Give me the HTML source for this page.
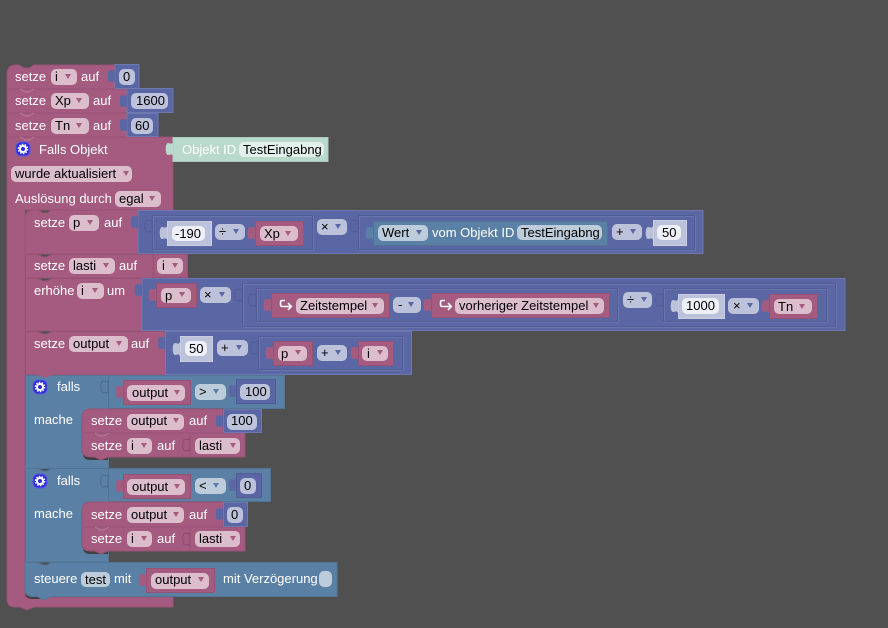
<!DOCTYPE html>
<html><head><meta charset="utf-8"><style>
html,body{margin:0;padding:0;background:#505050}
svg{display:block}
text{font-family:"Liberation Sans",sans-serif;font-size:13px}
.l{fill:#fff}.t{fill:#000}
.P{fill:#a55b80;stroke:#965273;stroke-width:1}
.M{fill:#5b67a5;stroke:#6d78b1;stroke-width:1}
.B{fill:#5b80a5;stroke:#527595;stroke-width:1}
.S{fill:#bdc2db;stroke:#c9cde2;stroke-width:1}
.fp{fill:#dbbdcc}.fm{fill:#bdc2db}.fb{fill:#bdccdb}.fw{fill:#eef0f7}
.fo1{fill:none;stroke:#7680b4}.fo2{fill:none;stroke:#525d98}
rect[rx]{rx:5px}
</style></head><body>
<svg width="888" height="628" viewBox="0 0 888 628" xmlns="http://www.w3.org/2000/svg">
<defs>
<path id="tab" d="M0 0C-1 3-3 1-5 1-8 1-8 13-5 13-3 13-1 11 0 14Z"/>
<path id="tri" d="M0 0h6l-3 5z"/>
<path id="notch" d="M0 0l5 3h4l5-3" fill="none" stroke="#bc84a0" opacity=".8"/>
<g id="gear"><rect width="14" height="14" rx="3" fill="#2b2bd8" stroke="#5a5ae0"/><circle cx="7" cy="7" r="3" fill="none" stroke="#fff" stroke-width="2"/><circle cx="7" cy="7" r="4.600" fill="none" stroke="#fff" stroke-width="1.400" stroke-dasharray="1.600 1.300"/></g>
</defs>
<rect width="888" height="628" fill="#505050"/>

<!-- outer C block -->
<path class="P" d="M7 74Q7 65 16 65H19L24 68H29L34 65H115V89H127V137H173V210H25V597H173V607H34L27 610 20 607H15Q7 607 7 599Z"/>
<path d="M8 89h107M8 113h119M8 137h165" stroke="#965273" fill="none"/>
<use href="#notch" x="20" y="89"/><use href="#notch" x="20" y="113"/><use href="#notch" x="20" y="137"/>

<!-- top rows -->
<text class="l" x="15" y="81">setze</text>
<rect class="fp" x="51" y="69" width="26" height="16" rx="5"/><text class="t" x="55" y="81">i</text><use href="#tri" x="65" y="74" fill="#a55b80"/>
<text class="l" x="81" y="81">auf</text>
<rect class="M" x="115" y="64.500" width="24" height="24"/><use href="#tab" x="115" y="69" fill="#5b67a5"/>
<rect class="fm" x="119" y="69" width="16" height="16" rx="5"/><text class="t" x="123" y="81">0</text>

<text class="l" x="15" y="105">setze</text>
<rect class="fp" x="51" y="93" width="38" height="16" rx="5"/><text class="t" x="55" y="105">Xp</text><use href="#tri" x="76" y="98" fill="#a55b80"/>
<text class="l" x="93" y="105">auf</text>
<rect class="M" x="127" y="88.500" width="46" height="24"/><use href="#tab" x="127" y="94" fill="#5b67a5"/>
<rect class="fm" x="131" y="93" width="37" height="16" rx="5"/><text class="t" x="136" y="105">1600</text>

<text class="l" x="15" y="130">setze</text>
<rect class="fp" x="51" y="118" width="38" height="16" rx="5"/><text class="t" x="55" y="130">Tn</text><use href="#tri" x="76" y="123" fill="#a55b80"/>
<text class="l" x="93" y="130">auf</text>
<rect class="M" x="127" y="113.500" width="31" height="23"/><use href="#tab" x="127" y="118" fill="#5b67a5"/>
<rect class="fm" x="131" y="118" width="22" height="16" rx="5"/><text class="t" x="135" y="130">60</text>

<!-- Falls Objekt -->
<use href="#gear" x="16" y="142"/>
<text class="l" x="39" y="154">Falls Objekt</text>
<rect x="173" y="137.500" width="155" height="24" fill="#b9d9cc" stroke="#a9cabd"/><use href="#tab" x="173" y="142" fill="#b9d9cc"/>
<text class="l" x="182" y="154">Objekt ID</text>
<rect x="239" y="142" width="85" height="15" rx="5" fill="#e3f0eb"/><text class="t" x="243" y="154">TestEingabng</text>
<rect class="fp" x="11" y="166" width="121" height="16" rx="5"/><text class="t" x="15" y="178">wurde aktualisiert</text><use href="#tri" x="123" y="171" fill="#a55b80"/>
<text class="l" x="15" y="203">Auslösung durch</text>
<rect class="fp" x="115" y="191" width="46" height="16" rx="5"/><text class="t" x="119" y="203">egal</text><use href="#tri" x="149" y="196" fill="#a55b80"/>

<!-- setze p -->
<path class="P" d="M25 219Q25 210 34 210H38L43 213H47L52 210H138V254H25Z"/>
<text class="l" x="34" y="227">setze</text>
<rect class="fp" x="69" y="215" width="30" height="16" rx="5"/><text class="t" x="73" y="227">p</text><use href="#tri" x="87" y="220" fill="#a55b80"/>
<text class="l" x="104" y="227">auf</text>
<rect class="M" x="138" y="210.500" width="565" height="43"/><use href="#tab" x="138" y="215" fill="#5b67a5"/>
<rect class="fo1" x="153" y="216" width="160" height="34"/><rect class="fo2" x="152.500" y="215.500" width="160" height="34"/>
<use href="#tab" x="152" y="219" fill="#5b67a5" stroke="#525d98"/>
<rect class="S" x="167.500" y="221.500" width="44" height="24"/><use href="#tab" x="167" y="226" fill="#bdc2db"/>
<rect class="fw" x="172" y="226" width="33" height="15" rx="5"/><text class="t" x="175" y="238">-190</text>
<rect class="fm" x="215" y="224" width="30" height="16" rx="5"/><text class="t" x="219" y="236">÷</text><use href="#tri" x="233" y="229" fill="#5b67a5"/>
<rect class="P" x="255.500" y="221.500" width="48" height="24"/><use href="#tab" x="255" y="226" fill="#a55b80"/>
<rect class="fp" x="260" y="226" width="38" height="15" rx="5"/><text class="t" x="264" y="238">Xp</text><use href="#tri" x="285" y="231" fill="#a55b80"/>
<rect class="fm" x="317" y="219" width="30" height="16" rx="5"/><text class="t" x="321" y="231">×</text><use href="#tri" x="335" y="224" fill="#5b67a5"/>
<rect class="fo1" x="359" y="216" width="336" height="34"/><rect class="fo2" x="358.500" y="215.500" width="336" height="34"/>
<use href="#tab" x="358" y="219" fill="#5b67a5" stroke="#525d98"/>
<rect class="B" x="373.500" y="221.500" width="234" height="24"/><use href="#tab" x="373" y="226" fill="#5b80a5"/>
<rect class="fb" x="378" y="225" width="50" height="16" rx="5"/><text class="t" x="382" y="237">Wert</text><use href="#tri" x="416" y="230" fill="#5b67a5"/>
<text class="l" x="432" y="237">vom Objekt ID</text>
<rect class="fb" x="517" y="225" width="85" height="15" rx="5"/><text class="t" x="521" y="237">TestEingabng</text>
<rect class="fm" x="612" y="224" width="30" height="16" rx="5"/><text class="t" x="616" y="236">+</text><use href="#tri" x="630" y="229" fill="#5b67a5"/>
<rect class="S" x="653.500" y="220.500" width="33" height="25"/><use href="#tab" x="653" y="226" fill="#bdc2db"/>
<rect class="fw" x="657" y="225" width="24" height="15" rx="5"/><text class="t" x="662" y="237">50</text>

<!-- setze lasti -->
<path class="P" d="M25.500 254.500H38L43 257H47L52 254.500H153V278H25.500Z"/>
<text class="l" x="34" y="270">setze</text>
<rect class="fp" x="69" y="258" width="46" height="16" rx="5"/><text class="t" x="73" y="270">lasti</text><use href="#tri" x="103" y="263" fill="#a55b80"/>
<text class="l" x="119" y="270">auf</text>
<rect class="P" x="153.500" y="254.500" width="34" height="23"/><use href="#tab" x="153" y="258" fill="#a55b80"/>
<rect class="fp" x="157" y="258" width="26" height="16" rx="5"/><text class="t" x="162" y="270">i</text><use href="#tri" x="172" y="263" fill="#a55b80"/>

<!-- erhöhe -->
<path class="P" d="M25.500 278.500H38L43 281H47L52 278.500H142.500V331H25.500Z"/>
<text class="l" x="34" y="295">erhöhe</text>
<rect class="fp" x="77" y="283" width="27" height="16" rx="5"/><text class="t" x="81" y="295">i</text><use href="#tri" x="92" y="288" fill="#a55b80"/>
<text class="l" x="107" y="295">um</text>
<rect class="M" x="142" y="278.500" width="703" height="52"/><use href="#tab" x="142" y="283" fill="#5b67a5"/>
<rect class="P" x="156.500" y="283.500" width="40" height="24"/><use href="#tab" x="156" y="288" fill="#a55b80"/>
<rect class="fp" x="161" y="288" width="30" height="15" rx="5"/><text class="t" x="165" y="300">p</text><use href="#tri" x="179" y="292" fill="#a55b80"/>
<rect class="fm" x="200" y="287" width="31" height="16" rx="5"/><text class="t" x="204" y="299">×</text><use href="#tri" x="219" y="292" fill="#5b67a5"/>
<rect class="fo1" x="243" y="284" width="593" height="43"/><rect class="fo2" x="242.500" y="283.500" width="593" height="43"/>
<use href="#tab" x="242" y="288" fill="#5b67a5" stroke="#525d98"/>
<rect class="fo1" x="257" y="289" width="361" height="33"/><rect class="fo2" x="256.500" y="288.500" width="361" height="33"/>
<use href="#tab" x="256" y="293" fill="#5b67a5" stroke="#525d98"/>
<rect class="P" x="271.500" y="293.500" width="118" height="24"/><use href="#tab" x="271" y="298" fill="#a55b80"/>
<path d="M285 300.500h-3q-1.500 0-1.500 2v2q0 2 2 2h8M288 303l3.300 3.500-3.300 3.500" fill="none" stroke="#fff" stroke-width="1.600"/>
<rect class="fp" x="296" y="298" width="88" height="16" rx="5"/><text class="t" x="300" y="310">Zeitstempel</text><use href="#tri" x="372" y="303" fill="#a55b80"/>
<rect class="fm" x="393" y="297" width="28" height="16" rx="5"/><text class="t" x="398" y="309">-</text><use href="#tri" x="408" y="302" fill="#5b67a5"/>
<rect class="P" x="431.500" y="293.500" width="178" height="24"/><use href="#tab" x="431" y="298" fill="#a55b80"/>
<path d="M445 300.500h-3q-1.500 0-1.500 2v2q0 2 2 2h8M448 303l3.300 3.500-3.300 3.500" fill="none" stroke="#fff" stroke-width="1.600"/>
<rect class="fp" x="455" y="298" width="149" height="16" rx="5"/><text class="t" x="459" y="310">vorheriger Zeitstempel</text><use href="#tri" x="593" y="303" fill="#a55b80"/>
<rect class="fm" x="623" y="292" width="29" height="16" rx="5"/><text class="t" x="627" y="304">÷</text><use href="#tri" x="641" y="297" fill="#5b67a5"/>
<rect class="fo1" x="664" y="289" width="163" height="33"/><rect class="fo2" x="663.500" y="288.500" width="163" height="33"/>
<use href="#tab" x="663" y="293" fill="#5b67a5" stroke="#525d98"/>
<rect class="S" x="678.500" y="294.500" width="46" height="24"/><use href="#tab" x="678" y="299" fill="#bdc2db"/>
<rect class="fw" x="682" y="298" width="37" height="16" rx="5"/><text class="t" x="686" y="310">1000</text>
<rect class="fm" x="728" y="298" width="31" height="16" rx="5"/><text class="t" x="733" y="310">×</text><use href="#tri" x="747" y="303" fill="#5b67a5"/>
<rect class="P" x="769.500" y="294.500" width="48" height="24"/><use href="#tab" x="769" y="299" fill="#a55b80"/>
<rect class="fp" x="774" y="299" width="38" height="15" rx="5"/><text class="t" x="778" y="311">Tn</text><use href="#tri" x="799" y="304" fill="#a55b80"/>

<!-- setze output -->
<path class="P" d="M25.500 331.500H38L43 334H47L52 331.500H165.500V375H52L45 378 38 375H25.500Z"/>
<text class="l" x="34" y="348">setze</text>
<rect class="fp" x="69" y="336" width="59" height="16" rx="5"/><text class="t" x="73" y="348">output</text><use href="#tri" x="116" y="341" fill="#a55b80"/>
<text class="l" x="131" y="348">auf</text>
<rect class="M" x="165.500" y="331.500" width="246" height="43"/><use href="#tab" x="165" y="336" fill="#5b67a5"/>
<rect class="S" x="180.500" y="336.500" width="32" height="25"/><use href="#tab" x="180" y="342" fill="#bdc2db"/>
<rect class="fw" x="185" y="341" width="22" height="15" rx="5"/><text class="t" x="189" y="353">50</text>
<rect class="fm" x="217" y="340" width="31" height="16" rx="5"/><text class="t" x="221" y="352">+</text><use href="#tri" x="236" y="345" fill="#5b67a5"/>
<rect class="fo1" x="259" y="337" width="144" height="33"/><rect class="fo2" x="258.500" y="336.500" width="144" height="33"/>
<use href="#tab" x="258" y="341" fill="#5b67a5" stroke="#525d98"/>
<rect class="P" x="273.500" y="341.500" width="39" height="24"/><use href="#tab" x="273" y="346" fill="#a55b80"/>
<rect class="fp" x="278" y="346" width="29" height="15" rx="5"/><text class="t" x="281" y="358">p</text><use href="#tri" x="295" y="350" fill="#a55b80"/>
<rect class="fm" x="317" y="345" width="30" height="16" rx="5"/><text class="t" x="321" y="357">+</text><use href="#tri" x="335" y="350" fill="#5b67a5"/>
<rect class="P" x="358.500" y="341.500" width="35" height="24"/><use href="#tab" x="358" y="346" fill="#a55b80"/>
<rect class="fp" x="362" y="346" width="26" height="15" rx="5"/><text class="t" x="367" y="358">i</text><use href="#tri" x="377" y="350" fill="#a55b80"/>

<!-- falls 1 -->
<rect class="B" x="25.500" y="375.500" width="83" height="93"/>
<rect class="B" x="108.500" y="375.500" width="176" height="33"/>
<path d="M38 375l7 3 7-3z" fill="#a55b80"/>
<use href="#gear" x="33" y="380"/>
<text class="l" x="57" y="391">falls</text>
<text class="l" x="34" y="424">mache</text>
<use href="#tab" x="108" y="380" fill="#5b80a5" stroke="#4b6d8e"/>
<rect class="P" x="123.500" y="380.500" width="67" height="24"/><use href="#tab" x="123" y="385" fill="#a55b80"/>
<rect class="fp" x="127" y="385" width="58" height="16" rx="5"/><text class="t" x="132" y="397">output</text><use href="#tri" x="174" y="390" fill="#a55b80"/>
<rect class="fb" x="195" y="384" width="31" height="16" rx="5"/><text class="t" x="199" y="396">&gt;</text><use href="#tri" x="213" y="389" fill="#5b80a5"/>
<rect class="M" x="236.500" y="379.500" width="39" height="24" style="stroke:#525d98"/><use href="#tab" x="236" y="384" fill="#5b67a5"/>
<rect class="fm" x="240" y="384" width="30" height="16" rx="5"/><text class="t" x="245" y="396">100</text>

<path d="M83 448V453Q83 460 90 460H108V448Z" fill="#3f3f3f"/>
<path class="P" d="M82 418Q82 409 91 409H223V433H245V457H108L101 460 95 457H91Q82 457 82 450Z"/>
<path d="M83 433h140" stroke="#965273"/><use href="#notch" x="95" y="433"/>
<text class="l" x="91" y="425">setze</text>
<rect class="fp" x="127" y="414" width="57" height="16" rx="5"/><text class="t" x="131" y="425">output</text><use href="#tri" x="173" y="418" fill="#a55b80"/>
<text class="l" x="189" y="425">auf</text>
<rect class="M" x="223.500" y="409.500" width="38" height="23"/><use href="#tab" x="223" y="414" fill="#5b67a5"/>
<rect class="fm" x="227" y="414" width="30" height="16" rx="5"/><text class="t" x="231" y="425">100</text>
<text class="l" x="91" y="450">setze</text>
<rect class="fp" x="127" y="438" width="25" height="16" rx="5"/><text class="t" x="131" y="450">i</text><use href="#tri" x="141" y="443" fill="#a55b80"/>
<text class="l" x="157" y="450">auf</text>
<path d="M190 433v24" stroke="#965273"/><use href="#tab" x="190" y="438" fill="#a55b80" stroke="#8a4c6b"/>
<rect class="fp" x="195" y="438" width="45" height="16" rx="5"/><text class="t" x="199" y="450">lasti</text><use href="#tri" x="230" y="443" fill="#a55b80"/>

<!-- falls 2 -->
<path class="B" d="M25.500 468.500H38L43 471H47L52 468.500H270.500V501.500H108.500V562H25.500Z"/>
<path d="M108.500 468.500v33" stroke="#527595"/>
<use href="#gear" x="33" y="474"/>
<text class="l" x="57" y="485">falls</text>
<text class="l" x="34" y="518">mache</text>
<use href="#tab" x="108" y="474" fill="#5b80a5" stroke="#4b6d8e"/>
<rect class="P" x="123.500" y="474.500" width="67" height="24"/><use href="#tab" x="123" y="479" fill="#a55b80"/>
<rect class="fp" x="127" y="479" width="58" height="16" rx="5"/><text class="t" x="132" y="491">output</text><use href="#tri" x="174" y="484" fill="#a55b80"/>
<rect class="fb" x="195" y="478" width="31" height="16" rx="5"/><text class="t" x="199" y="490">&lt;</text><use href="#tri" x="213" y="483" fill="#5b80a5"/>
<rect class="M" x="236.500" y="473.500" width="25" height="24" style="stroke:#525d98"/><use href="#tab" x="236" y="478" fill="#5b67a5"/>
<rect class="fm" x="240" y="478" width="16" height="16" rx="5"/><text class="t" x="244" y="490">0</text>

<path d="M83 542V547Q83 554 90 554H108V542Z" fill="#3f3f3f"/>
<path class="P" d="M82 511Q82 502 91 502H223V527H245V551H108L101 554 95 551H91Q82 551 82 544Z"/>
<path d="M83 527h140" stroke="#965273"/><use href="#notch" x="95" y="527"/>
<text class="l" x="91" y="519">setze</text>
<rect class="fp" x="127" y="507" width="57" height="16" rx="5"/><text class="t" x="131" y="519">output</text><use href="#tri" x="173" y="512" fill="#a55b80"/>
<text class="l" x="189" y="519">auf</text>
<rect class="M" x="223.500" y="502.500" width="24" height="24"/><use href="#tab" x="223" y="507" fill="#5b67a5"/>
<rect class="fm" x="227" y="507" width="16" height="16" rx="5"/><text class="t" x="231" y="519">0</text>
<text class="l" x="91" y="543">setze</text>
<rect class="fp" x="127" y="531" width="25" height="16" rx="5"/><text class="t" x="131" y="543">i</text><use href="#tri" x="141" y="536" fill="#a55b80"/>
<text class="l" x="157" y="543">auf</text>
<path d="M190 527v24" stroke="#965273"/><use href="#tab" x="190" y="532" fill="#a55b80" stroke="#8a4c6b"/>
<rect class="fp" x="195" y="531" width="45" height="16" rx="5"/><text class="t" x="199" y="543">lasti</text><use href="#tri" x="230" y="536" fill="#a55b80"/>

<!-- steuere -->
<path d="M26 590V594Q26 599 33 599H40V590Z" fill="#3f3f3f"/>
<path class="B" d="M25 562.500H38L43 565H47L52 562.500H337V596.500H51L44 600 37 596.500H33Q25 596.500 25 589Z"/>
<text class="l" x="34" y="583">steuere</text>
<rect class="fb" x="81" y="572" width="29" height="15" rx="5"/><text class="t" x="85" y="584">test</text>
<text class="l" x="114" y="583">mit</text>
<rect class="P" x="146.500" y="568.500" width="68" height="24"/><use href="#tab" x="146" y="573" fill="#a55b80"/>
<rect class="fp" x="151" y="573" width="58" height="16" rx="5"/><text class="t" x="155" y="584">output</text><use href="#tri" x="198" y="577" fill="#a55b80"/>
<text class="l" x="223" y="583">mit Verzögerung</text>
<rect class="fb" x="319" y="571" width="13" height="16" rx="5"/>
</svg>
</body></html>
